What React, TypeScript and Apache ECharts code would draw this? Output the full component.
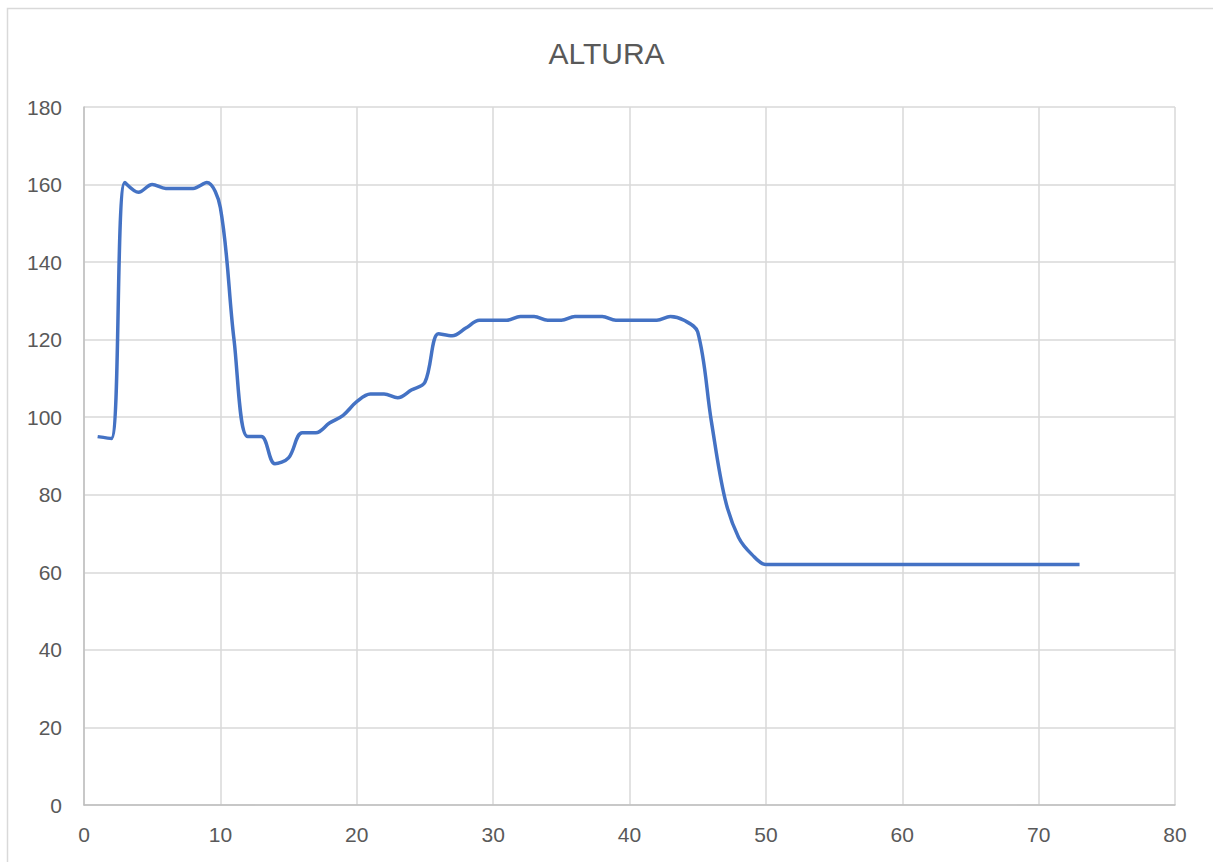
import React, { useEffect, useRef } from "react";
import * as echarts from "echarts";

// Measurement index 1..73 and the recorded height at each one
const positions: number[] = Array.from({ length: 73 }, (_, i) => i + 1);
const alturaHead: number[] = [
  95, 94.5, 160.5, 158, 160, 159, 159, 159, 160.5, 154,
  120, 95, 95, 88, 89.5, 96, 96, 98.5, 100.5, 104,
  106, 106, 105, 107, 109, 121.5, 121, 123, 125, 125,
  125, 126, 126, 125, 125, 126, 126, 126, 125, 125,
  125, 125, 126, 125, 122, 99, 79, 69, 64.5, 62,
];
const alturaTail: number[] = new Array(23).fill(62);
const altura: number[] = alturaHead.concat(alturaTail);

const xTicks = { min: 0, max: 80, interval: 10 };
const yTicks = { min: 0, max: 180, interval: 20 };

const FONT = '"Liberation Sans", "Open Sans", sans-serif';
const TEXT = "#595959";

export default function App() {
  const ref = useRef<HTMLDivElement>(null);

  useEffect(() => {
    document.body.style.margin = "0";
    if (!ref.current) return;
    const chart = echarts.init(ref.current, null, { renderer: "svg" });
    chart.setOption({
      animation: false,
      backgroundColor: "#ffffff",
      title: {
        text: "ALTURA",
        left: "center",
        top: 33,
        textStyle: { color: TEXT, fontFamily: FONT, fontSize: 30, fontWeight: "normal" },
      },
      graphic: [
        {
          type: "rect",
          shape: { x: 7.5, y: 8.5, width: 1240, height: 900 },
          style: { fill: "none", stroke: "#d9d9d9", lineWidth: 1.5 },
          silent: true,
        },
      ],
      grid: { left: 84, right: 38, top: 107, bottom: 57, containLabel: false },
      xAxis: {
        type: "value",
        min: xTicks.min,
        max: xTicks.max,
        interval: xTicks.interval,
        axisLine: { show: true, lineStyle: { color: "#bfbfbf", width: 1.5 } },
        axisTick: { show: false },
        splitLine: { show: true, lineStyle: { color: "#d9d9d9", width: 1.5 } },
        axisLabel: { color: TEXT, fontFamily: FONT, fontSize: 21, margin: 19 },
      },
      yAxis: {
        type: "value",
        min: yTicks.min,
        max: yTicks.max,
        interval: yTicks.interval,
        axisLine: { show: true, lineStyle: { color: "#bfbfbf", width: 1.5 } },
        axisTick: { show: false },
        splitLine: { show: true, lineStyle: { color: "#d9d9d9", width: 1.5 } },
        axisLabel: { color: TEXT, fontFamily: FONT, fontSize: 21, margin: 22 },
      },
      series: [
        {
          type: "line",
          name: "ALTURA",
          data: positions.map((x, i) => [x, altura[i]]),
          showSymbol: false,
          smooth: 0.35,
          lineStyle: { color: "#4472c4", width: 3.5 },
        },
      ],
    });
    return () => chart.dispose();
  }, []);

  return <div ref={ref} style={{ width: 1213, height: 862 }} />;
}
